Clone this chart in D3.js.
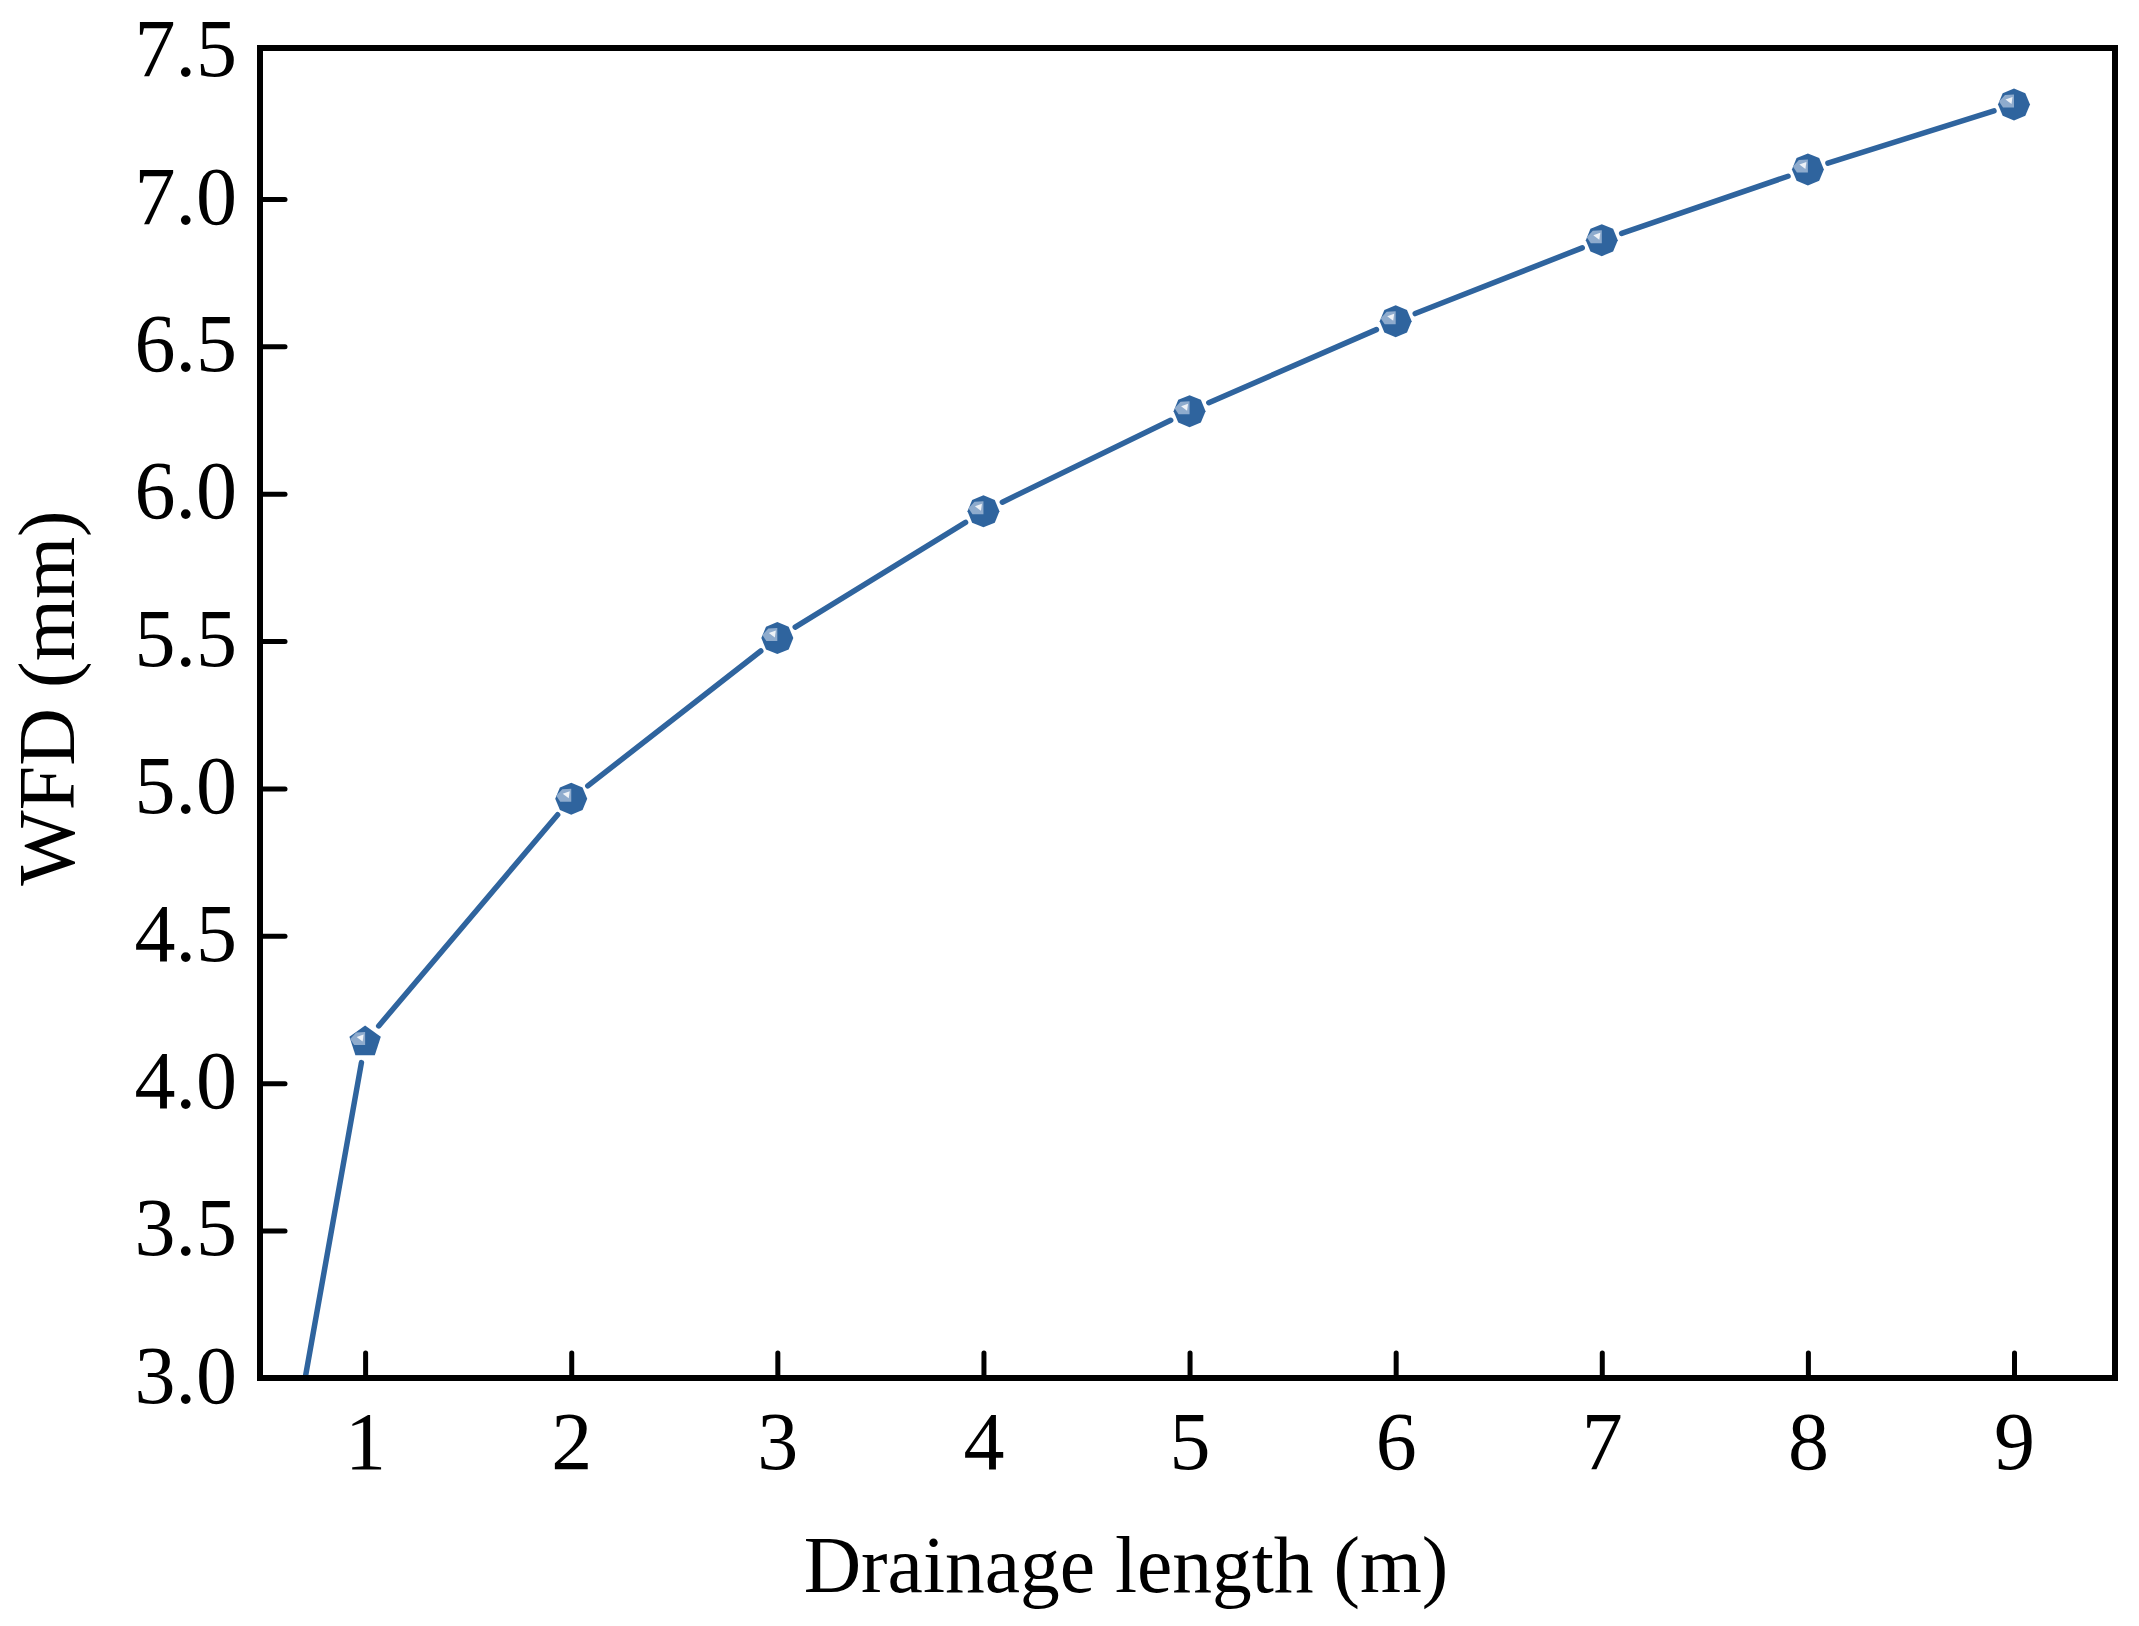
<!DOCTYPE html>
<html>

<head>
    <meta charset="UTF-8">
    <style>
        html, body { margin: 0; padding: 0; background: #fff; }
        svg { display: block; }
        text { font-family: "Liberation Serif", serif; fill: #000; }
    </style>
    <script src="https://d3js.org/d3.v7.min.js"></script>
</head>

<body>
    <svg></svg>
    <script>

        let width = 2139, height = 1626;

        // values
        const lengths = [0, 1, 2, 3, 4, 5, 6, 7, 8, 9];
        const wfd = [0.22, 4.14, 4.965, 5.51, 5.94, 6.28, 6.585, 6.86, 7.10, 7.32];
        const xTicks = [1, 2, 3, 4, 5, 6, 7, 8, 9];
        const yTicks = [3.0, 3.5, 4.0, 4.5, 5.0, 5.5, 6.0, 6.5, 7.0, 7.5];
        const xTitle = "Drainage length (m)";
        const yTitle = "WFD (mm)";

        const blue = "#2f649e";
        const left = 260, right = 2115, top_ = 48, bottom = 1378;
        const gap = 21; // line stops short of each marker

        let svg = d3.select("svg")
            .attr("width", width)
            .attr("height", height)
            .attr("viewBox", "0 0 " + width + " " + height);

        let x = d3.scaleLinear().domain([0.49, 9.49]).range([left, right]);
        let y = d3.scaleLinear().domain([3, 7.5]).range([bottom, 51.5]);

        svg.append("clipPath").attr("id", "plot")
            .append("rect")
            .attr("x", left).attr("y", top_)
            .attr("width", right - left).attr("height", bottom - top_);

        let points = lengths.map((d, i) => ({ px: x(d), py: y(wfd[i]), index: i }));

        // line segments between points, cut back around the markers
        let segments = d3.pairs(points).map(([a, b]) => {
            let dx = b.px - a.px, dy = b.py - a.py;
            let len = Math.sqrt(dx * dx + dy * dy);
            let ux = dx / len, uy = dy / len;
            return {
                x1: a.px + ux * (a.index === 0 ? 0 : gap),
                y1: a.py + uy * (a.index === 0 ? 0 : gap),
                x2: b.px - ux * gap,
                y2: b.py - uy * gap
            };
        });

        svg.append("g")
            .attr("clip-path", "url(#plot)")
            .selectAll("line")
            .data(segments)
            .enter()
            .append("line")
            .attr("x1", d => d.x1)
            .attr("y1", d => d.y1)
            .attr("x2", d => d.x2)
            .attr("y2", d => d.y2)
            .style("stroke", blue)
            .style("stroke-width", 5.5)
            .style("stroke-linecap", "round");

        // frame
        svg.append("rect")
            .attr("x", left).attr("y", top_)
            .attr("width", right - left).attr("height", bottom - top_)
            .style("fill", "none")
            .style("stroke", "#000")
            .style("stroke-width", 6);

        // axes
        let xAxis = d3.axisBottom(x)
            .tickValues(xTicks)
            .tickFormat(d3.format("d"))
            .tickSize(-25)
            .tickPadding(33);

        let yAxis = d3.axisLeft(y)
            .tickValues(yTicks)
            .tickFormat(d3.format(".1f"))
            .tickSize(-25)
            .tickPadding(23);

        let gx = svg.append("g").attr("transform", "translate(0," + bottom + ")").call(xAxis);
        let gy = svg.append("g").attr("transform", "translate(" + left + ",0)").call(yAxis);

        [gx, gy].forEach(g => {
            g.select(".domain").remove();
            g.selectAll("line")
                .style("stroke", "#000")
                .style("stroke-width", 5)
                .style("stroke-linecap", "round");
            g.selectAll("text").style("font-size", "82px");
        });
        gy.selectAll("text").attr("y", -2);
        gy.selectAll(".tick").filter(d => d === 7.5).select("line").remove();

        // axis titles
        svg.append("text")
            .attr("x", 1126)
            .attr("y", 1592)
            .attr("text-anchor", "middle")
            .style("font-size", "79.5px")
            .text(xTitle);

        svg.append("text")
            .attr("transform", "translate(74,698) rotate(-90)")
            .attr("text-anchor", "middle")
            .style("font-size", "80px")
            .text(yTitle);

        // markers: low-poly ball with a highlight in the upper left
        function polygon(sides, r) {
            return d3.range(sides).map(i => {
                let a = 2 * Math.PI * i / sides - Math.PI / 2;
                return [r * Math.cos(a), r * Math.sin(a)].join(",");
            }).join(" ");
        }

        let markers = svg.append("g")
            .selectAll("g")
            .data(points.filter(d => d.index > 0))
            .enter()
            .append("g")
            .attr("transform", d => "translate(" + d.px + "," + d.py + ")");

        markers.append("polygon")
            .attr("points", d => d.index === 1 ? polygon(5, 16.5) : polygon(8, 16))
            .style("fill", blue);

        markers.append("polygon")
            .attr("points", "-15,-3 -9,-9.5 0,-10 0,3 -11,3")
            .style("fill", "#8eabcd");

        markers.append("polygon")
            .attr("points", "-8.5,-5 -1.5,-7.5 -2.5,-0.5")
            .style("fill", "#eef2f7");

    </script>

</body>

</html>
